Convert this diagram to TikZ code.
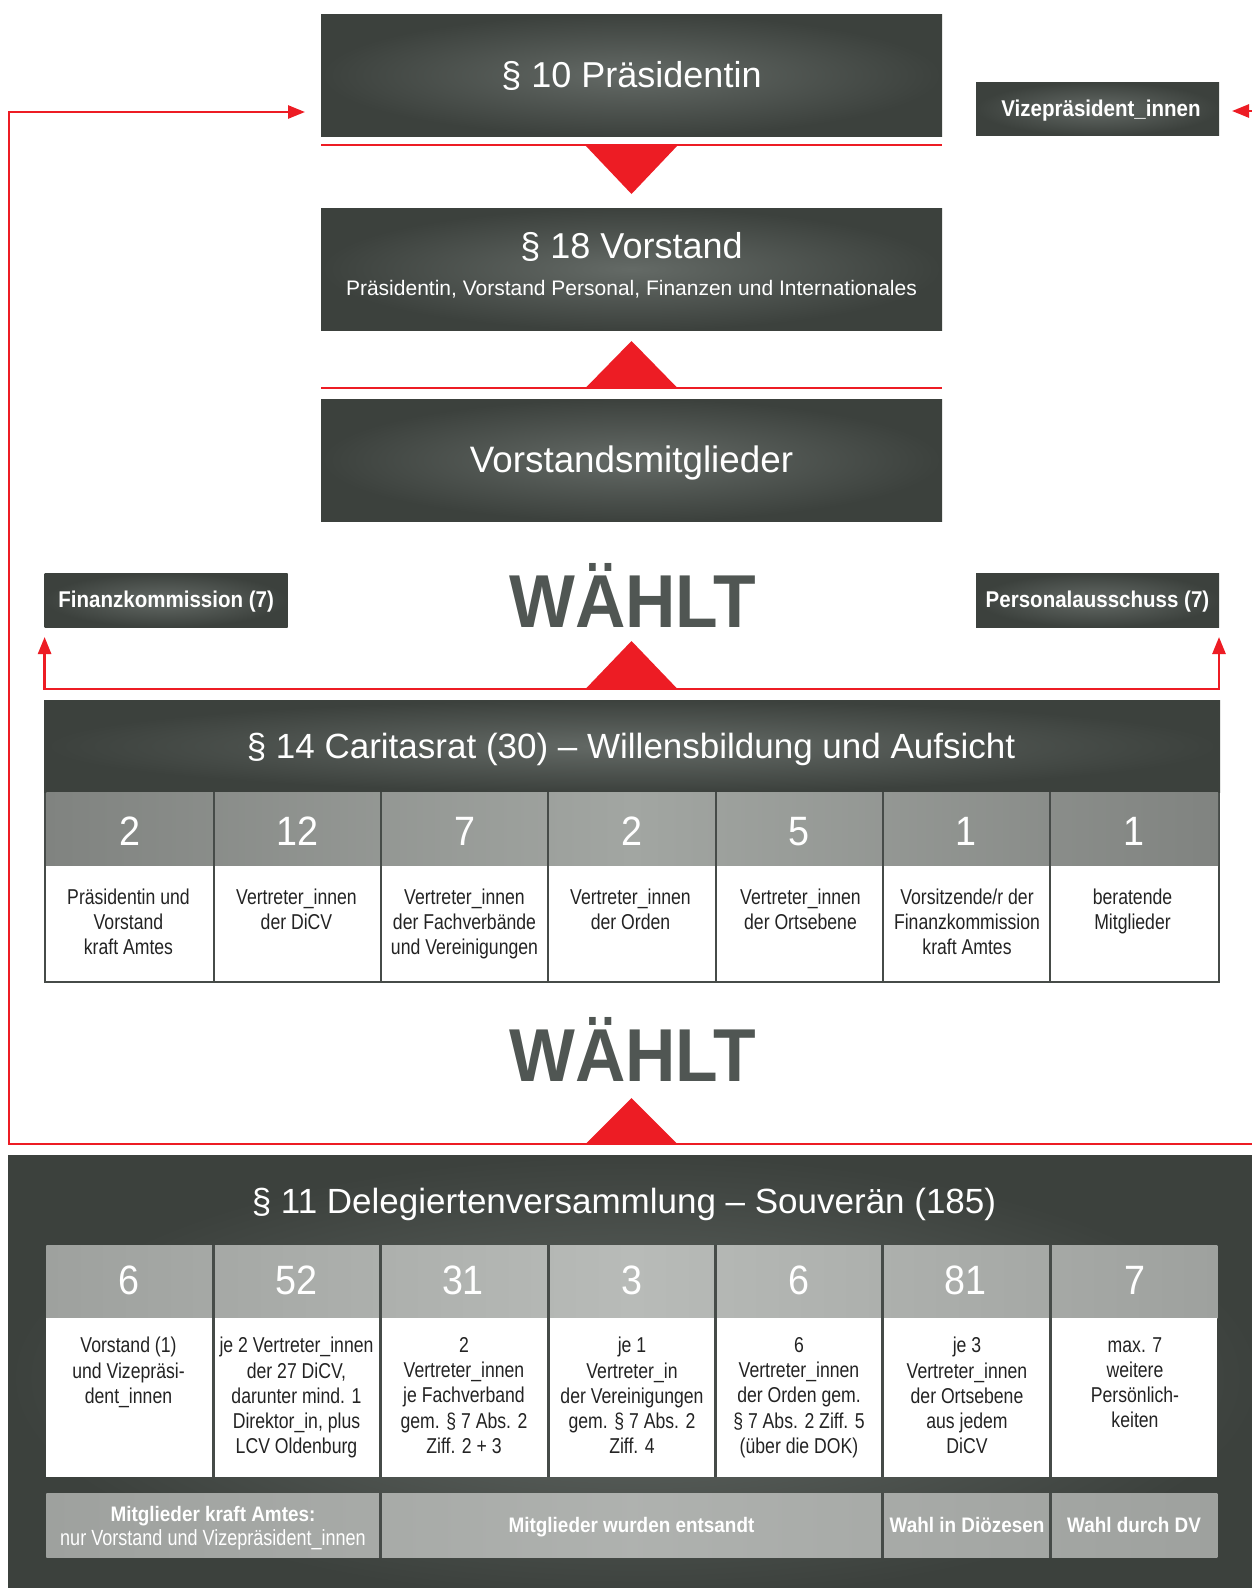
\documentclass[tikz,border=0pt]{standalone}
\usepackage{fontspec}
\setmainfont{Liberation Sans}
\newfontfamily\condr[FakeStretch=0.82]{Liberation Sans}
\newfontfamily\condbf[FakeStretch=0.9]{Liberation Sans}
\newfontfamily\numfnt[FakeStretch=0.92]{Liberation Sans}
\newfontfamily\wfnt[FakeStretch=0.93]{Liberation Sans}
\usetikzlibrary{arrows.meta}
\definecolor{cred}{RGB}{237,28,36}
\definecolor{bdark}{RGB}{60,65,61}
\definecolor{blight}{RGB}{100,106,102}
\definecolor{wcol}{RGB}{80,86,83}
\definecolor{nrowA}{RGB}{128,131,128}
\definecolor{nrowB}{RGB}{162,166,162}
\definecolor{dnA}{RGB}{158,161,158}
\definecolor{dnB}{RGB}{184,187,184}
\definecolor{sepc}{RGB}{70,75,72}
\definecolor{desccol}{RGB}{35,35,35}
\begin{document}
\begin{tikzpicture}[x=1pt,y=-1pt,
  darkbox/.style={shading=radial, inner color=blight, outer color=bdark, inner sep=0pt, outer sep=0pt, anchor=north west},
  txt/.style={text=white, inner sep=0pt, anchor=base},
  ttl/.style={txt, font=\fontsize{36}{40}\selectfont},
  hdr/.style={txt, font=\fontsize{35}{40}\selectfont},
  subt/.style={txt, font=\fontsize{21}{25}\selectfont},
  lbl/.style={txt, font=\condbf\bfseries\fontsize{22.8}{26}\selectfont},
  blbl/.style={txt, font=\condbf\bfseries\fontsize{21}{25}\selectfont},
  rlbl/.style={txt, font=\condr\fontsize{22}{25}\selectfont},
  num/.style={txt, font=\numfnt\fontsize{41}{45}\selectfont},
  desc/.style={text=desccol, inner sep=0pt, anchor=north, align=center, font=\condr\fontsize{21.5}{25}\selectfont},
  ddesc/.style={desc, font=\condr\fontsize{21.5}{25.3}\selectfont},
  waehlt/.style={text=wcol, inner sep=0pt, anchor=base, font=\wfnt\bfseries\fontsize{75}{80}\selectfont},
  redln/.style={draw=cred, line width=2.6pt},
  tipA/.style={-{Triangle[length=17pt,width=13pt]}},
]
\useasboundingbox (0,0) rectangle (1252,1588);
\fill[white] (0,0) rectangle (1252,1588);
\begin{scope}
\clip (0,0) rectangle (1252,1588);

% ---------- top boxes ----------
\node[darkbox, minimum width=621pt, minimum height=122pt] (praes) at (321,14) {};
\node[ttl] (praesT) at (631.5,87) {§ 10 Präsidentin};

\node[darkbox, minimum width=621pt, minimum height=122pt] (vorst) at (321,208) {};
\node[ttl] (vorstT) at (631.5,258) {§ 18 Vorstand};
\node[subt] (vorstS) at (631.5,295) {Präsidentin, Vorstand Personal, Finanzen und Internationales};

\node[darkbox, minimum width=621pt, minimum height=122pt] (vmit) at (321,399) {};
\node[ttl, font=\fontsize{36.8}{40}\selectfont] (vmitT) at (631.5,472) {Vorstandsmitglieder};

\node[darkbox, minimum width=243pt, minimum height=53.5pt] (vize) at (976,82) {};
\node[lbl] (vizeT) at (1101,116.7) {Vizepräsident\_innen};

% red lines and triangles between top boxes
\draw[redln, line width=2.3pt] (321,145) -- (942,145);
\fill[cred] (585,145) -- (678,145) -- (631.5,194) -- cycle;
\draw[redln, line width=2.3pt] (321,388) -- (942,388);
\fill[cred] (585,388.5) -- (678,388.5) -- (631.5,341) -- cycle;

% ---------- WÄHLT 1 and commissions ----------
\node[waehlt] (w1) at (632.5,627) {WÄHLT};
\node[darkbox, minimum width=243pt, minimum height=54pt] (finanz) at (44.6,573) {};
\node[lbl] (finanzT) at (166.2,607) {Finanzkommission (7)};
\node[darkbox, minimum width=243pt, minimum height=54pt] (personal) at (976,573) {};
\node[lbl] (personalT) at (1097.5,607) {Personalausschuss (7)};

\coordinate (fkin) at (44.6,637);
\coordinate (bkL) at (44.6,689);
\coordinate (bkR) at (1219,689);
\coordinate (pain) at (1219,637);
\draw[redln, {Triangle[length=17pt,width=13pt]}-{Triangle[length=17pt,width=13pt]}] (fkin) -- (bkL) -- (bkR) -- (pain);
\fill[cred] (585,689.5) -- (678,689.5) -- (631.5,641) -- cycle;

% ---------- Caritasrat ----------
\fill[sepc] (44,700) rectangle (1220,983);
\node[darkbox, minimum width=1176pt, minimum height=92pt] (crat) at (44,700) {};
\node[hdr] (cratT) at (631,758) {§ 14 Caritasrat (30) – Willensbildung und Aufsicht};
\shade[left color=nrowA, right color=nrowA, middle color=nrowB] (46.3,792) rectangle (1218,866);
\fill[white] (46.3,866) rectangle (1218,981);
\foreach \k in {1,...,6} {
  \fill[sepc] (46.3+167.3*\k-1,792) rectangle (46.3+167.3*\k+1,981);
}
\node[num] (cn1) at (129.95,845) {2};
\node[num] (cn2) at (297.25,845) {12};
\node[num] (cn3) at (464.55,845) {7};
\node[num] (cn4) at (631.85,845) {2};
\node[num] (cn5) at (799.15,845) {5};
\node[num] (cn6) at (966.45,845) {1};
\node[num] (cn7) at (1133.75,845) {1};
\node[desc] (cd1) at (128.5,889) {Präsidentin und\\Vorstand\\kraft Amtes};
\node[desc] (cd2) at (296.5,889) {Vertreter\_innen\\der DiCV};
\node[desc] (cd3) at (464.5,889) {Vertreter\_innen\\der Fachverbände\\und Vereinigungen};
\node[desc] (cd4) at (630.5,889) {Vertreter\_innen\\der Orden};
\node[desc] (cd5) at (800.5,889) {Vertreter\_innen\\der Ortsebene};
\node[desc] (cd6) at (967,889) {Vorsitzende/r der\\Finanzkommission\\kraft Amtes};
\node[desc] (cd7) at (1132.5,889) {beratende\\Mitglieder};

% ---------- WÄHLT 2 ----------
\node[waehlt] (w2) at (632.5,1081) {WÄHLT};
\fill[cred] (585,1144.5) -- (678,1144.5) -- (631.5,1098) -- cycle;

% ---------- Delegiertenversammlung ----------
\node[darkbox, minimum width=1254pt, minimum height=445pt] (dv) at (8,1155) {};
\node[hdr] (dvT) at (624,1213) {§ 11 Delegiertenversammlung – Souverän (185)};
\shade[left color=dnA, right color=dnA, middle color=dnB] (46.3,1245) rectangle (1217.4,1318);
\fill[white] (46.3,1318) rectangle (1217.4,1477);
\shade[left color=dnA, right color=dnA, middle color=dnB!95!black] (46.3,1493) rectangle (1217.4,1557.6);
\foreach \k in {1,...,6} {
  \fill[sepc] (46.3+167.3*\k-1.5,1245) rectangle (46.3+167.3*\k+1.5,1477);
}
\foreach \k in {2,5,6} {
  \fill[sepc] (46.3+167.3*\k-1.5,1493) rectangle (46.3+167.3*\k+1.5,1557.6);
}
\node[num] (dn1) at (128.5,1294) {6};
\node[num] (dn2) at (296.5,1294) {52};
\node[num] (dn3) at (463,1294) {31};
\node[num] (dn4) at (632,1294) {3};
\node[num] (dn5) at (798.5,1294) {6};
\node[num] (dn6) at (965.5,1294) {81};
\node[num] (dn7) at (1135,1294) {7};
\node[ddesc] (dd1) at (128.5,1337) {Vorstand (1)\\und Vizepräsi-\\dent\_innen};
\node[ddesc] (dd2) at (296.5,1337) {je 2 Vertreter\_innen\\der 27 DiCV,\\darunter mind. 1\\Direktor\_in, plus\\LCV Oldenburg};
\node[ddesc] (dd3) at (464,1337) {2\\Vertreter\_innen\\je Fachverband\\gem. § 7 Abs. 2\\Ziff. 2 + 3};
\node[ddesc] (dd4) at (632,1337) {je 1\\Vertreter\_in\\der Vereinigungen\\gem. § 7 Abs. 2\\Ziff. 4};
\node[ddesc] (dd5) at (799,1337) {6\\Vertreter\_innen\\der Orden gem.\\§ 7 Abs. 2 Ziff. 5\\(über die DOK)};
\node[ddesc] (dd6) at (967,1337) {je 3\\Vertreter\_innen\\der Ortsebene\\aus jedem\\DiCV};
\node[ddesc] (dd7) at (1135,1337) {max. 7\\weitere\\Persönlich-\\keiten};
\node[blbl] (g1a) at (213,1521) {Mitglieder kraft Amtes:};
\node[rlbl] (g1b) at (213,1545) {nur Vorstand und Vizepräsident\_innen};
\node[blbl] (g2) at (631.5,1532) {Mitglieder wurden entsandt};
\node[blbl] (g3) at (967,1532) {Wahl in Diözesen};
\node[blbl] (g4) at (1134,1532) {Wahl durch DV};

% ---------- election feedback lines ----------
\coordinate (bl) at (9,1144);
\coordinate (br) at (1264,1144);
\coordinate (pin) at (305,112);
\coordinate (vin) at (1232,111);
\draw[redln, tipA] (br) -- (bl) |- (pin);
\draw[redln, tipA] (br) |- (vin);
\end{scope}
\end{tikzpicture}
\end{document}
